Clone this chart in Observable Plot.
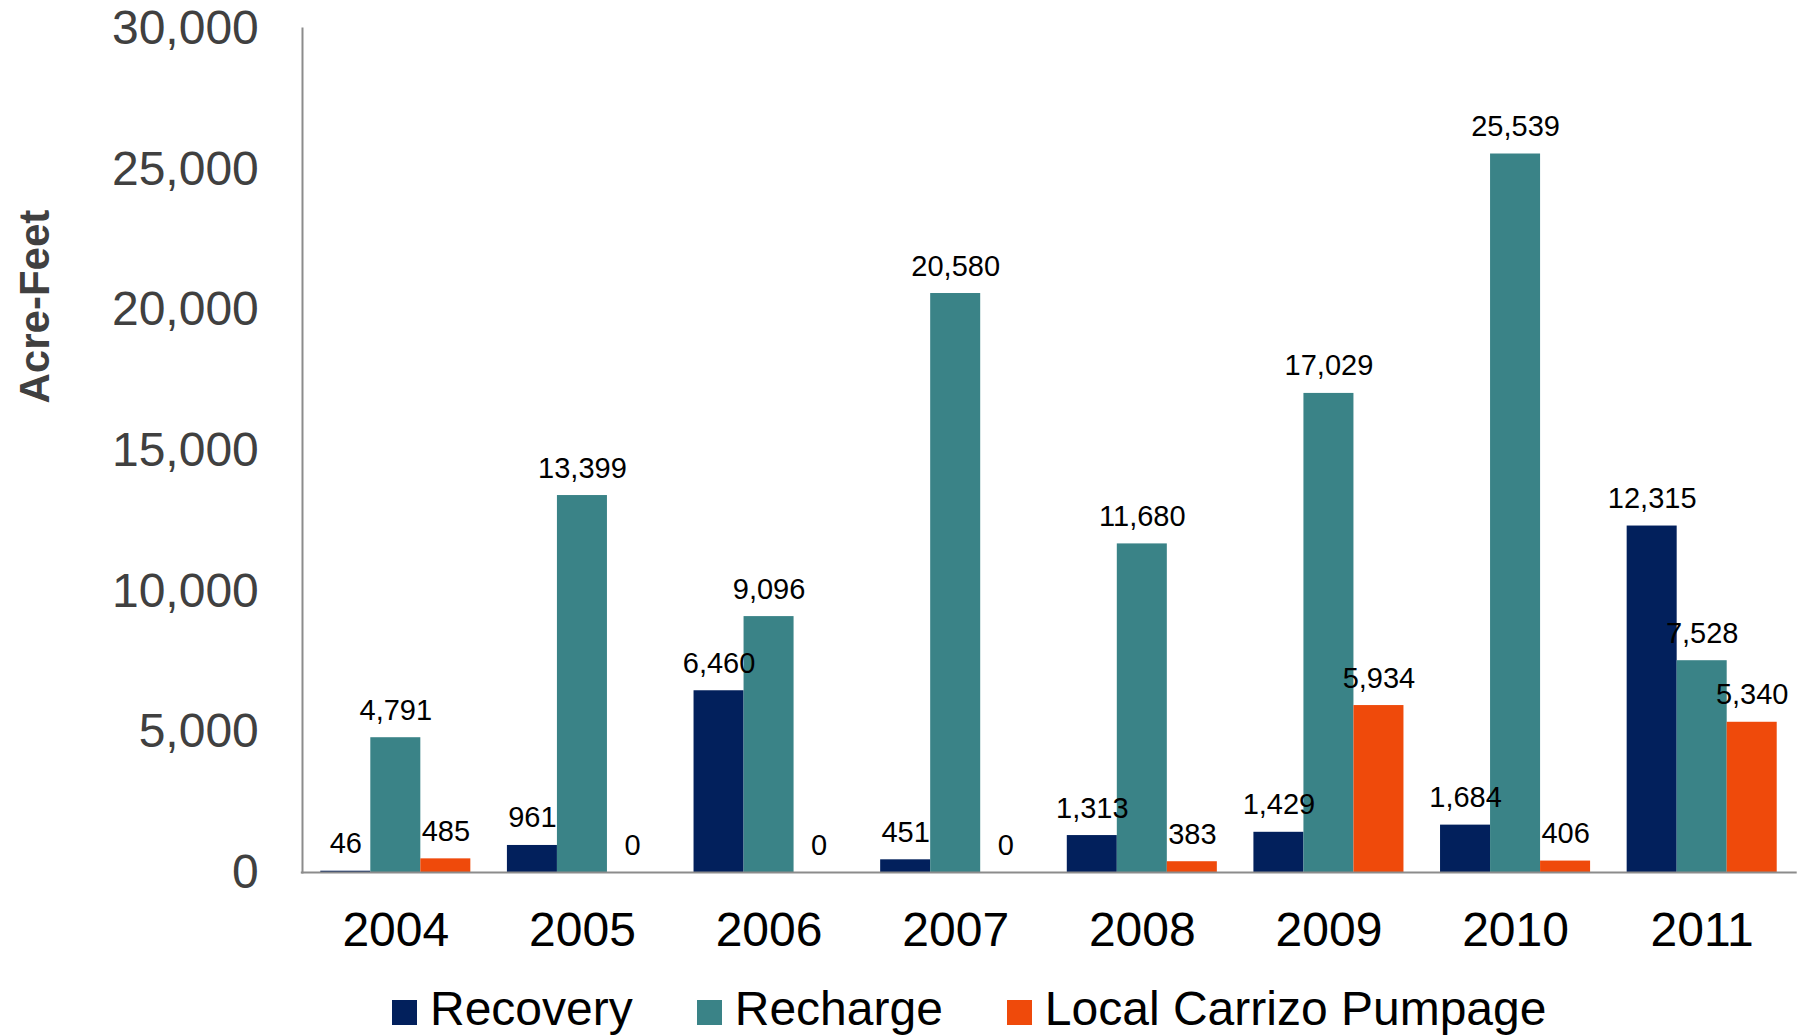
<!DOCTYPE html>
<html>
<head>
<meta charset="utf-8">
<script src="https://cdn.jsdelivr.net/npm/d3@7"></script>
<script src="https://cdn.jsdelivr.net/npm/@observablehq/plot@0.6"></script>
<style>
  html, body { margin: 0; padding: 0; background: #fff; }
  #wrap { position: relative; width: 1802px; height: 1035px; overflow: hidden; font-family: "Liberation Sans", Arial, sans-serif; }
  #legend { position: absolute; left: 392px; top: 985px; display: flex; align-items: baseline; font-size: 48px; line-height: 48px; color: #000; white-space: nowrap; }
  #legend .item { display: flex; align-items: baseline; margin-right: 64px; }
  #legend .sw { display: inline-block; width: 25px; height: 25px; margin-right: 13px; }
</style>
</head>
<body>
<div id="wrap">
  <div id="chart"></div>
  <div id="legend"></div>
</div>
<script>
const years = ["2004", "2005", "2006", "2007", "2008", "2009", "2010", "2011"];
const seriesNames = ["Recovery", "Recharge", "Local Carrizo Pumpage"];
const recovery = [46, 961, 6460, 451, 1313, 1429, 1684, 12315];
const recharge = [4791, 13399, 9096, 20580, 11680, 17029, 25539, 7528];
const pumpage = [485, 0, 0, 0, 383, 5934, 406, 5340];
const seriesColors = ["#02205C", "#3A8387", "#EF4A0B"];
const yTicks = [0, 5000, 10000, 15000, 20000, 25000, 30000];
const yLabel = "Acre-Feet";

const seriesValues = [recovery, recharge, pumpage];
const data = [];
years.forEach((yr, i) => {
  seriesNames.forEach((s, j) => data.push({ year: yr, series: s, value: seriesValues[j][i] }));
});

const fmt = d3.format(",");

const chart = Plot.plot({
  width: 1802,
  height: 985,
  marginLeft: 302,
  marginRight: 7,
  marginTop: 28,
  marginBottom: 113,
  style: { fontFamily: "'Liberation Sans', Arial, sans-serif", background: "#fff", overflow: "visible" },
  fx: { domain: years, paddingInner: 0.196, paddingOuter: 0.098, round: false, label: null },
  x: { domain: seriesNames, padding: 0, round: false, axis: null },
  y: { domain: [0, 30000], axis: null },
  color: { domain: seriesNames, range: seriesColors },
  marks: [
    Plot.barY(data, { fx: "year", x: "series", y: "value", fill: "series" }),
    Plot.frame({ anchor: "left", facet: "super", stroke: "#8c8c8c", strokeWidth: 2, insetLeft: -18.3 }),
    Plot.frame({ anchor: "bottom", facet: "super", stroke: "#8c8c8c", strokeWidth: 2, insetLeft: -19, insetRight: -18.5 }),
    Plot.text(data, {
      fx: "year", x: "series", y: "value",
      text: d => fmt(d.value),
      lineAnchor: "bottom", dy: -18,
      fontSize: 29, fill: "#000"
    }),
    Plot.axisY({
      ticks: yTicks, tickFormat: fmt, tickSize: 0, tickPadding: 62,
      fontSize: 48, color: "#404040", label: null
    }),
    Plot.axisFx({
      anchor: "bottom", tickSize: 0, tickPadding: 39,
      fontSize: 48, color: "#000", label: null
    }),
    Plot.text([yLabel], {
      facet: "super", frameAnchor: "top-left", dx: -302, dy: 375,
      rotate: -90, text: d => d, fontSize: 42, fontWeight: "bold", fill: "#404040"
    })
  ]
});
document.getElementById("chart").appendChild(chart);

const legend = document.getElementById("legend");
seriesNames.forEach((s, i) => {
  const item = document.createElement("div");
  item.className = "item";
  const sw = document.createElement("span");
  sw.className = "sw";
  sw.style.background = seriesColors[i];
  const t = document.createElement("span");
  t.textContent = s;
  item.appendChild(sw);
  item.appendChild(t);
  legend.appendChild(item);
});
</script>
</body>
</html>
